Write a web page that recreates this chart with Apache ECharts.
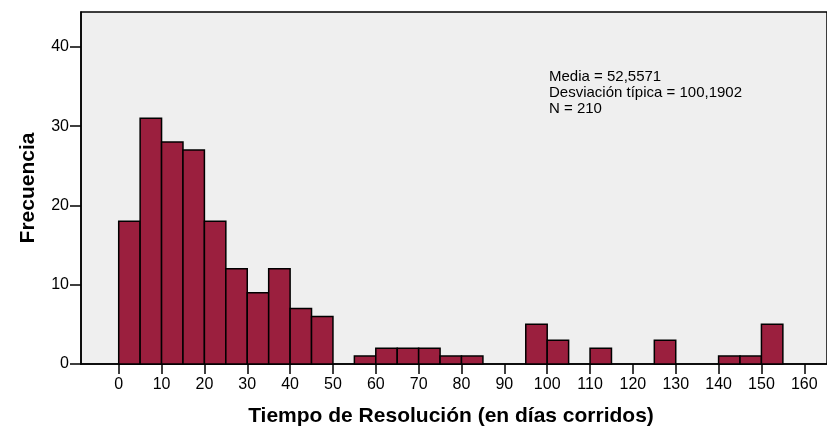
<!DOCTYPE html>
<html>
<head>
<meta charset="utf-8">
<script src="https://cdn.jsdelivr.net/npm/echarts@6/dist/echarts.min.js"></script>
<style>
  html, body { margin: 0; padding: 0; background: #fff; }
  #chart { width: 827px; height: 426px; }
</style>
</head>
<body>
<div id="chart"></div>
<script>
// histograma: inicio de cada intervalo (ancho 5) y su frecuencia
const binStarts = [0, 5, 10, 15, 20, 25, 30, 35, 40, 45, 55, 60, 65, 70, 75, 80, 95, 100, 110, 125, 140, 145, 150];
const counts    = [18, 31, 28, 27, 18, 12, 9, 12, 7, 6, 1, 2, 2, 2, 1, 1, 5, 3, 2, 3, 1, 1, 5];
const binWidth = 5;
const xTicks = [0, 10, 20, 30, 40, 50, 60, 70, 80, 90, 100, 110, 120, 130, 140, 150, 160];
const yTicks = [0, 10, 20, 30, 40];
const statsLines = ['Media = 52,5571', 'Desviación típica = 100,1902', 'N = 210'];

const chart = echarts.init(document.getElementById('chart'));

const barData = binStarts.map((s, i) => [s, s + binWidth, counts[i]]);

const option = {
  animation: false,
  backgroundColor: '#ffffff',
  grid: {
    left: 81, right: -4, top: 12, bottom: 62,
    show: true, backgroundColor: '#efefef', borderColor: '#000', borderWidth: 1.5
  },
  xAxis: {
    type: 'value',
    min: -8.8,
    max: 165.3,
    splitLine: { show: false },
    axisLine: { show: true, onZero: false, lineStyle: { color: '#000', width: 1.5 } },
    axisTick: { show: true, customValues: xTicks, length: 10, lineStyle: { color: '#000', width: 1.5 } },
    axisLabel: { customValues: xTicks, color: '#000', fontSize: 16, fontFamily: 'Liberation Sans', margin: 13 }
  },
  yAxis: {
    type: 'value',
    min: 0,
    max: 44.4,
    splitLine: { show: false },
    axisLine: { show: true, onZero: false, lineStyle: { color: '#000', width: 1.5 } },
    axisTick: { show: true, customValues: yTicks, length: 11, lineStyle: { color: '#000', width: 1.5 } },
    axisLabel: { customValues: yTicks, color: '#000', fontSize: 16, fontFamily: 'Liberation Sans', margin: 12 }
  },
  series: [{
    type: 'custom',
    data: barData,
    encode: { x: [0, 1], y: 2 },
    renderItem: function (params, api) {
      const p0 = api.coord([api.value(0), 0]);
      const p1 = api.coord([api.value(1), api.value(2)]);
      return {
        type: 'rect',
        shape: { x: p0[0], y: p1[1], width: p1[0] - p0[0], height: p0[1] - p1[1] },
        style: { fill: '#9b1f3e', stroke: '#000', lineWidth: 1.5 }
      };
    }
  }],
  graphic: [
    {
      type: 'text', left: 549, top: 69,
      style: {
        text: statsLines.join('\n'), fill: '#000', fontSize: 15,
        fontFamily: 'Liberation Sans', lineHeight: 16
      }
    },
    {
      type: 'text', x: 451, y: 416,
      style: {
        text: 'Tiempo de Resolución (en días corridos)', fill: '#000', fontSize: 21,
        fontWeight: 'bold', fontFamily: 'Liberation Sans', align: 'center', verticalAlign: 'middle'
      }
    },
    {
      type: 'text', x: 28, y: 188, rotation: Math.PI / 2,
      style: {
        text: 'Frecuencia', fill: '#000', fontSize: 21,
        fontWeight: 'bold', fontFamily: 'Liberation Sans', align: 'center', verticalAlign: 'middle'
      }
    }
  ]
};

chart.setOption(option);
</script>
</body>
</html>
